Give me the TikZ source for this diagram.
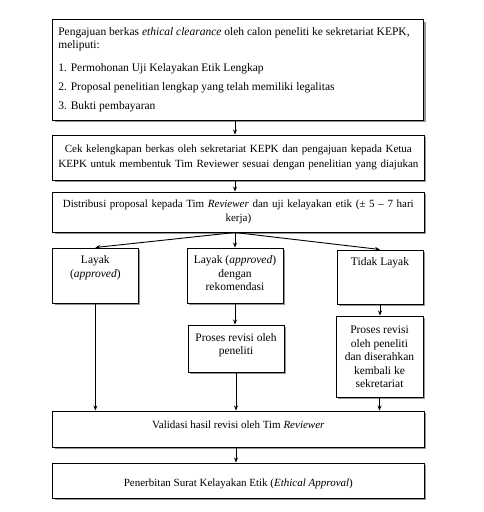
\documentclass[tikz,border=0pt]{standalone}
\usepackage{fontspec}
\setmainfont{Liberation Serif}
\usepackage{tikz}
\usetikzlibrary{positioning,arrows.meta,shadows}

\newcommand{\toptext}[4]{\parbox[t][#2][t]{#1}{\vspace*{#3}\centering #4}}

\begin{document}
\begin{tikzpicture}[x=1pt,y=-1pt,>={Stealth[length=5pt,width=4pt]},
		box/.style={draw,line width=1pt,fill=white,inner sep=0pt,
			drop shadow={shadow xshift=2.2pt,shadow yshift=-2.2pt,fill=black!45,opacity=0.9},
			font=\fontsize{11.5}{13.5}\selectfont},
		widebox/.style={box,minimum width=371.3pt,text width=368pt,align=center,
			font=\fontsize{11}{14.7}\selectfont},
		flow/.style={->,line width=0.9pt}]
			
			\useasboundingbox (0,0) rectangle (483,512);
			
			\node[box,inner xsep=5.6pt,font=\fontsize{11.5}{12.6}\selectfont] (submit) at (238.35,69.75)
				{\parbox[t][100.5pt][t]{360pt}{\vspace*{8.4pt}\raggedright
					Pengajuan berkas \emph{ethical clearance} oleh calon peneliti ke sekretariat KEPK,\\
					meliputi:\\[10.6pt]
					1. Permohonan Uji Kelayakan Etik Lengkap\\[6pt]
					2. Proposal penelitian lengkap yang telah memiliki legalitas\\[6.6pt]
					3. Bukti pembayaran}};
			
			\node[widebox,minimum height=45pt] (check) at (238.35,157.5)
				{Cek kelengkapan berkas oleh sekretariat KEPK dan pengajuan kepada Ketua\\
				KEPK untuk membentuk Tim Reviewer sesuai dengan penelitian yang diajukan};
			
			\node[widebox,minimum height=40pt] (distrib) at (238.35,212)
				{Distribusi proposal kepada Tim \emph{Reviewer} dan uji kelayakan etik (± 5 – 7 hari\\ kerja)};
			
			% three outcomes
			\node[box] (layak) at (95.35,275.5) {\toptext{85.3pt}{55pt}{7.8pt}{Layak\\(\emph{approved})}};
			\node[box] (layakrek) at (235,275.5) {\toptext{96pt}{55pt}{8pt}{Layak (\emph{approved})\\dengan\\rekomendasi}};
			\node[box] (tidak) at (380,277) {\toptext{86pt}{54pt}{7.6pt}{Tidak Layak}};
			
			\node[box] (revisi1) at (236,348.5) {\toptext{96pt}{47pt}{8.2pt}{Proses revisi oleh\\peneliti}};
			\node[box] (revisi2) at (379.5,356.5) {\toptext{87pt}{81pt}{10.2pt}{Proses revisi\\oleh peneliti\\dan diserahkan\\kembali ke\\sekretariat}};
			
			\node[box,font=\fontsize{11}{13.5}\selectfont] (valid) at (238.35,429) {\toptext{371.3pt}{36pt}{9.5pt}{Validasi hasil revisi oleh Tim \emph{Reviewer}}};
			\node[box,font=\fontsize{11}{13.5}\selectfont] (ea) at (238.35,480.5) {\toptext{371.3pt}{35pt}{15.5pt}{Penerbitan Surat Kelayakan Etik (\emph{Ethical Approval})}};
			
			\draw[flow] (submit.south -| layakrek) -- (check.north -| layakrek);
			\draw[flow] (check.south -| layakrek) -- (distrib.north -| layakrek);
			
			\draw[flow] (distrib.south -| layakrek) -- (layak.north);
			\draw[flow] (distrib.south -| layakrek) -- (layakrek.north);
			\draw[flow] (distrib.south -| layakrek) -- (tidak.north);
			
			\draw[flow] (layak.south) -- (layak.south |- valid.north);
			\draw[flow] (layakrek.south) -- (layakrek.south |- revisi1.north);
			\draw[flow] (revisi1.south) -- (revisi1.south |- valid.north);
			\draw[flow] (tidak.south) -- (tidak.south |- revisi2.north);
			\draw[flow] (revisi2.south) -- (revisi2.south |- valid.north);
			
			\draw[flow] (valid.south -| revisi1) -- (ea.north -| revisi1);
			
		\end{tikzpicture}
\end{document}
